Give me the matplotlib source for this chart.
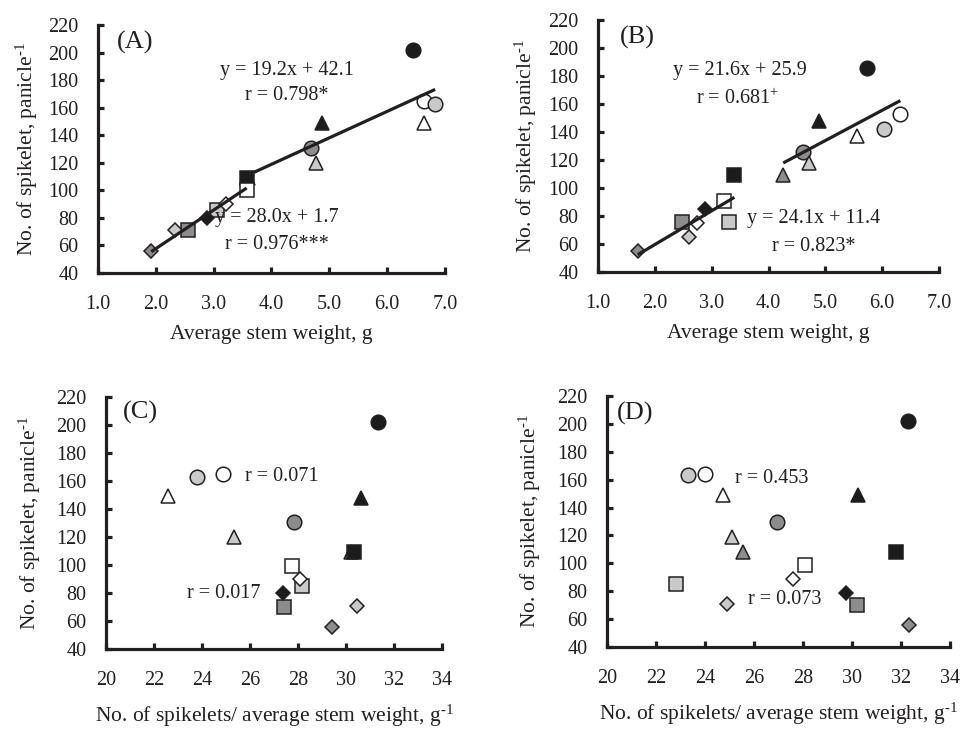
import matplotlib
matplotlib.use("Agg")
import matplotlib.pyplot as plt

plt.rcParams["font.family"] = ["Liberation Serif", "DejaVu Serif"]
plt.rcParams["mathtext.fontset"] = "custom"
plt.rcParams["mathtext.rm"] = "Liberation Serif"
plt.rcParams["mathtext.it"] = "Liberation Serif:italic"

# ---- marker legend: 4 shapes x 4 fills (same order in every panel) ----
shapes = ["o", "o", "o", "o", "^", "^", "^", "^", "s", "s", "s", "s", "D", "D", "D", "D"]
fills = ["black", "white", "light", "dark"] * 4

# ---- panel A: average stem weight vs spikelets per panicle ----
a_x = [6.45, 6.63, 6.83, 4.69, 4.88, 6.63, 4.77, 3.60, 3.57, 3.57, 3.05, 2.56, 2.89, 3.21, 2.33, 1.92]
a_y = [202, 165, 163, 131, 149, 149, 120, 109, 109, 100, 86, 71, 80, 90, 71, 56]

# ---- panel B ----
b_x = [5.73, 6.32, 6.03, 4.60, 4.89, 5.55, 4.71, 4.26, 3.40, 3.21, 3.30, 2.48, 2.88, 2.74, 2.60, 1.70]
b_y = [186, 153, 142, 126, 148, 137, 118, 109, 109, 91, 76, 76, 85, 75, 65, 55]

# ---- panel C: spikelets per stem weight vs spikelets per panicle ----
c_x = [31.35, 24.87, 23.78, 27.83, 30.62, 22.60, 25.35, 30.20, 30.34, 27.73, 28.18, 27.41, 27.36, 28.07, 30.45, 29.42]
c_y = [202, 165, 163, 131, 148, 149, 120, 109, 109, 99, 85, 70, 80, 90, 71, 56]

# ---- panel D ----
d_x = [32.29, 24.01, 23.29, 26.94, 30.23, 24.72, 25.10, 25.55, 31.80, 28.07, 22.83, 30.20, 29.76, 27.60, 24.90, 32.34]
d_y = [202, 164, 163, 130, 149, 149, 119, 108, 108, 99, 85, 70, 79, 89, 71, 56]

# regression fits (slope, intercept) for the circle/triangle group and the square/diamond group
a_fit_high = (19.2, 42.1)
a_fit_low = (28.0, 1.7)
b_fit_high = (21.6, 25.9)
b_fit_low = (24.1, 11.4)

weight_ticks = [1.0, 2.0, 3.0, 4.0, 5.0, 6.0, 7.0]
ratio_ticks = [20, 22, 24, 26, 28, 30, 32, 34]
spikelet_ticks = [40, 60, 80, 100, 120, 140, 160, 180, 200, 220]

INK = "#231f20"
FILL_COLORS = {"black": "#1c1c1c", "white": "#ffffff", "light": "#c9c9c9", "dark": "#8c8c8c"}
MARKER_SIZE = {"o": 10.5, "^": 10.5, "s": 10.2, "D": 7.3}
HY = "\u2010"  # typographic hyphen used in the unit superscripts

W, H = 960, 729
fig = plt.figure(figsize=(W / 100, H / 100), dpi=100)


def make_axes(left, top, right, bottom):
    return fig.add_axes([left / W, 1 - bottom / H, (right - left) / W, (bottom - top) / H])


def style_axes(ax, xticks, xfmt, xlabel):
    for side in ("top", "right"):
        ax.spines[side].set_visible(False)
    for side in ("left", "bottom"):
        ax.spines[side].set_linewidth(2.3)
        ax.spines[side].set_color(INK)
        ax.spines[side].set_capstyle("projecting")
    ax.set_xlim(xticks[0], xticks[-1])
    ax.set_ylim(spikelet_ticks[0], spikelet_ticks[-1])
    ax.set_xticks(xticks)
    ax.set_xticklabels([xfmt.format(t) for t in xticks])
    ax.set_yticks(spikelet_ticks)
    ax.tick_params(axis="both", direction="in", length=4.5, width=2.3, color=INK,
                   labelsize=14.5, labelcolor=INK)
    ax.tick_params(axis="x", pad=16)
    ax.tick_params(axis="y", pad=14)
    ax.set_xlabel(xlabel, fontsize=15.5, color=INK)
    ax.set_ylabel("No. of spikelet, panicle$^{" + HY + "1}$", fontsize=15.5, color=INK)
    ax.patch.set_alpha(0)


def draw_points(ax, xs, ys):
    for shp in ("o", "^", "s", "D"):
        for x, y, s, f in zip(xs, ys, shapes, fills):
            if s != shp:
                continue
            ax.plot([x], [y], marker=s, markersize=MARKER_SIZE[s], markerfacecolor=FILL_COLORS[f],
                    markeredgecolor=INK, markeredgewidth=1.1, linestyle="none", zorder=3)


def draw_fit(ax, xs, ys, fit, group_shapes):
    gx = [x for x, s in zip(xs, shapes) if s in group_shapes]
    x0, x1 = min(gx), max(gx)
    k, b = fit
    ax.plot([x0, x1], [k * x0 + b, k * x1 + b], color=INK, linewidth=2.3, zorder=4,
            solid_capstyle="butt")


def panel_tag(ax, text, x_px, y_frac):
    ax.text(x_px, y_frac, text, transform=ax.transAxes, fontsize=19, color=INK, ha="left", va="center")


weight_label = "Average stem weight, g"
ratio_label = "No. of spikelets/ average stem weight, g$^{" + HY + "1}$"

# Panel A
axA = make_axes(98, 25, 445, 273)
style_axes(axA, weight_ticks, "{:.1f}", weight_label)
draw_points(axA, a_x, a_y)
draw_fit(axA, a_x, a_y, a_fit_high, ("o", "^"))
draw_fit(axA, a_x, a_y, a_fit_low, ("s", "D"))
axA.text(4.27, 187, "y = 19.2x + 42.1", fontsize=14.5, color=INK, ha="center", va="center", zorder=5)
axA.text(4.27, 168.5, "r = 0.798*", fontsize=14.5, color=INK, ha="center", va="center", zorder=5)
axA.text(4.10, 80, "y = 28.0x + 1.7", fontsize=14.5, color=INK, ha="center", va="center", zorder=5)
axA.text(4.10, 60.5, "r = 0.976***", fontsize=14.5, color=INK, ha="center", va="center", zorder=5)
panel_tag(axA, "(A)", 0.055, 0.93)

# Panel B
axB = make_axes(598, 20, 939, 272)
style_axes(axB, weight_ticks, "{:.1f}", weight_label)
draw_points(axB, b_x, b_y)
draw_fit(axB, b_x, b_y, b_fit_high, ("o", "^"))
draw_fit(axB, b_x, b_y, b_fit_low, ("s", "D"))
axB.text(3.50, 184, "y = 21.6x + 25.9", fontsize=14.5, color=INK, ha="center", va="center", zorder=5)
axB.text(3.45, 163.5, "r = 0.681$^{+}$", fontsize=14.5, color=INK, ha="center", va="center", zorder=5)
axB.text(4.79, 78, "y = 24.1x + 11.4", fontsize=14.5, color=INK, ha="center", va="center", zorder=5)
axB.text(4.79, 58, "r = 0.823*", fontsize=14.5, color=INK, ha="center", va="center", zorder=5)
panel_tag(axB, "(B)", 0.065, 0.93)

# Panel C
axC = make_axes(106, 397, 442, 649)
style_axes(axC, ratio_ticks, "{:d}", ratio_label)
draw_points(axC, c_x, c_y)
axC.text(27.33, 163.5, "r = 0.071", fontsize=14.5, color=INK, ha="center", va="center", zorder=5)
axC.text(24.90, 80, "r = 0.017", fontsize=14.5, color=INK, ha="center", va="center", zorder=5)
panel_tag(axC, "(C)", 0.05, 0.94)

# Panel D
axD = make_axes(607, 396, 950, 647)
style_axes(axD, ratio_ticks, "{:d}", ratio_label)
draw_points(axD, d_x, d_y)
axD.text(26.73, 161, "r = 0.453", fontsize=14.5, color=INK, ha="center", va="center", zorder=5)
axD.text(27.27, 74, "r = 0.073", fontsize=14.5, color=INK, ha="center", va="center", zorder=5)
panel_tag(axD, "(D)", 0.03, 0.93)

# axis label placement (offsets in pixels from the axes edges)
for ax, wpx, hpx, ylab_px, xlab_px in ((axA, 347, 248, 58, 52), (axB, 341, 252, 59, 52),
                                       (axC, 336, 252, 63, 54), (axD, 343, 251, 64, 54)):
    ax.yaxis.set_label_coords(-ylab_px / wpx, 0.5)
    ax.xaxis.set_label_coords(0.5, -xlab_px / hpx)

fig.savefig("out.png", dpi=100, facecolor="white")
